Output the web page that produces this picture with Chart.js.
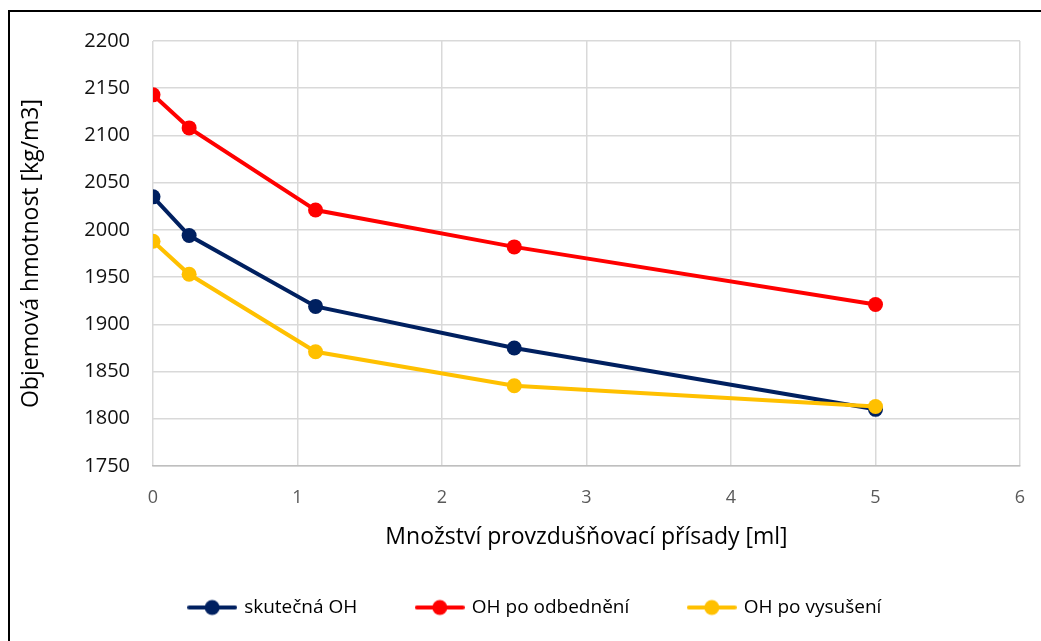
<!DOCTYPE html>
<html lang="cs">
<head>
  <meta charset="UTF-8">
  <title>Objemová hmotnost</title>
  <style>
    * { box-sizing: border-box; margin:0; padding:0; }
    body { background:#fff; width:1041px; height:641px; overflow:hidden; position:relative; }
    .frame {
      position:absolute; left:8px; top:10px; width:1100px; height:700px;
      border-left:2px solid #000; border-top:2px solid #000;
    }
    #wrap { position:absolute; left:0; top:0; width:1041px; height:641px; }
  </style>
  <script src="https://cdn.jsdelivr.net/npm/chart.js"></script>
</head>
<body>
  <div class="frame"></div>
  <div id="wrap"><canvas id="chart" width="1041" height="641"></canvas></div>

  <script>
    // values
    const dosage = [0, 0.25, 1.125, 2.5, 5];
    const skutecna = [2035, 1994, 1919, 1875, 1810];
    const poOdbedneni = [2143, 2108, 2021, 1982, 1921];
    const poVysuseni = [1988, 1953, 1871, 1835, 1813];
    const seriesNames = ['skutečná OH', 'OH po odbednění', 'OH po vysušení'];
    const seriesColors = ['#002060', '#ff0000', '#ffc000'];

    const FONT = '"Open Sans", Lato, sans-serif';
    const pts = ys => dosage.map((x, i) => ({ x: x, y: ys[i] }));

    // legend marker: short line with a dot
    function marker(color) {
      const c = document.createElement('canvas');
      c.width = 50; c.height = 18;
      const g = c.getContext('2d');
      g.strokeStyle = color; g.lineWidth = 4; g.lineCap = 'round';
      g.beginPath(); g.moveTo(2, 9); g.lineTo(48, 9); g.stroke();
      g.fillStyle = color;
      g.beginPath(); g.arc(25, 9, 7.5, 0, Math.PI * 2); g.fill();
      return c;
    }

    const sets = [skutecna, poOdbedneni, poVysuseni].map((ys, i) => ({
      label: seriesNames[i],
      data: pts(ys),
      borderColor: seriesColors[i],
      backgroundColor: seriesColors[i],
      borderWidth: 4,
      pointRadius: 7.5,
      pointHoverRadius: 7.5,
      pointBorderWidth: 0,
      tension: 0,
      fill: false
    }));
    // yellow should sit on top of navy at the last point, like the picture
    sets.forEach((s, i) => s.order = 3 - i);

    new Chart(document.getElementById('chart').getContext('2d'), {
      type: 'line',
      data: { datasets: sets },
      options: {
        responsive: false,
        animation: false,
        layout: { padding: { left: 34, right: 4, top: 41, bottom: 14 } },
        scales: {
          x: {
            type: 'linear', min: 0, max: 6,
            ticks: { stepSize: 1, color: '#595959', padding: 21, font: { family: FONT, size: 18 } },
            grid: { color: '#d9d9d9', lineWidth: 1.5, drawTicks: false },
            border: { color: '#bfbfbf', width: 1.5 },
            title: { display: true, text: 'Množství provzdušňovací přísady [ml]', color: '#000',
                     font: { family: FONT, size: 23 }, padding: { top: 0, bottom: -13 } },
            afterFit: s => { s.height = 72; s.paddingRight = 21; }
          },
          y: {
            min: 1750, max: 2200,
            ticks: { stepSize: 50, color: '#111', padding: 23, font: { family: FONT, size: 20 },
                     callback: v => String(v) },
            grid: { color: '#d9d9d9', lineWidth: 1.5, drawTicks: false },
            border: { display: false },
            title: { display: true, text: 'Objemová hmotnost [kg/m3]', color: '#000',
                     font: { family: FONT, size: 23 }, padding: { top: -16, bottom: 0 } },
            afterFit: s => { s.width = 119; }
          }
        },
        plugins: {
          tooltip: { enabled: false },
          legend: {
            position: 'bottom',
            labels: {
              color: '#000',
              font: { family: FONT, size: 19 },
              padding: 60,
              usePointStyle: true,
              pointStyleWidth: 45,
              generateLabels: chart => chart.data.datasets.map((d, i) => ({
                text: d.label,
                fontColor: '#000',
                pointStyle: marker(seriesColors[i]),
                strokeStyle: seriesColors[i],
                fillStyle: seriesColors[i],
                lineWidth: 0,
                datasetIndex: i
              }))
            }
          }
        }
      }
    });
  </script>
</body>
</html>
